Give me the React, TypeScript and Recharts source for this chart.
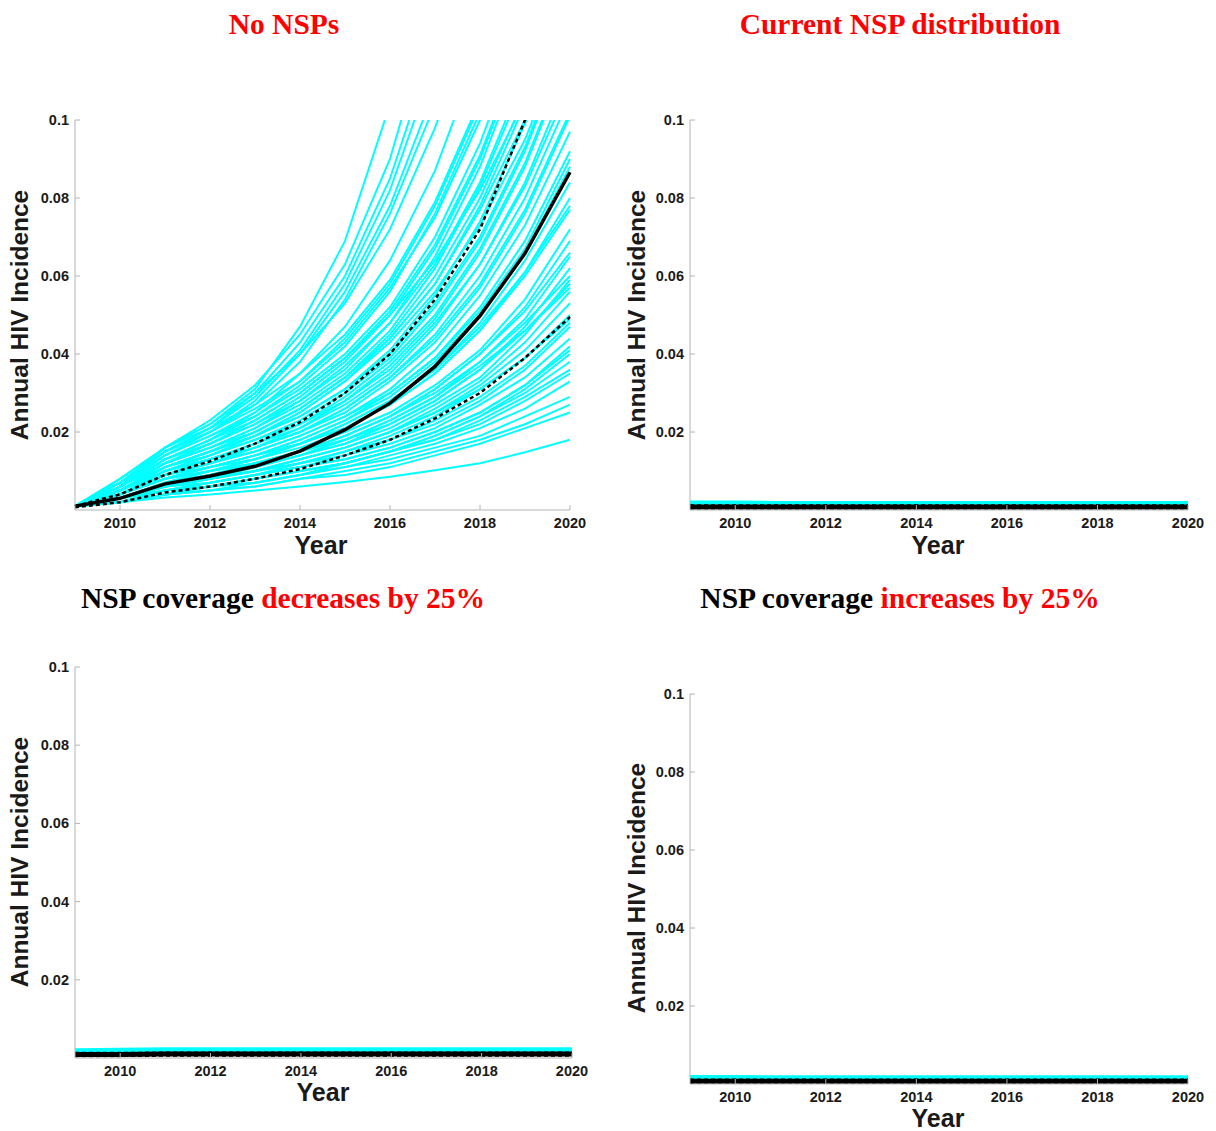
import { LineChart, Line, XAxis, YAxis } from 'recharts'

const years = [2009, 2010, 2011, 2012, 2013, 2014, 2015, 2016, 2017, 2018, 2019, 2020]
const xTicks = [2010, 2012, 2014, 2016, 2018, 2020]
const yTicks = [0.02, 0.04, 0.06, 0.08, 0.1]

// "No NSPs" simulation runs (values past 0.1 are clipped)
const noNspRuns: number[][] = [
  [0.001, 0.008, 0.016, 0.022, 0.031, 0.047, 0.069, 0.104, 0.15, 0.21, 0.29, 0.4],
  [0.001, 0.008, 0.016, 0.023, 0.032, 0.045, 0.063, 0.09, 0.13, 0.18, 0.25, 0.34],
  [0.001, 0.007, 0.015, 0.021, 0.029, 0.041, 0.058, 0.082, 0.115, 0.16, 0.22, 0.3],
  [0.001, 0.007, 0.015, 0.02, 0.028, 0.04, 0.056, 0.078, 0.108, 0.15, 0.2, 0.27],
  [0.001, 0.007, 0.014, 0.02, 0.027, 0.038, 0.054, 0.076, 0.104, 0.14, 0.19, 0.26],
  [0.001, 0.007, 0.015, 0.021, 0.03, 0.043, 0.06, 0.085, 0.12, 0.17, 0.23, 0.31],
  [0.001, 0.006, 0.016, 0.022, 0.03, 0.04, 0.053, 0.072, 0.098, 0.13, 0.18, 0.24],
  [0.001, 0.006, 0.013, 0.018, 0.025, 0.035, 0.047, 0.064, 0.087, 0.118, 0.16, 0.21],
  [0.001, 0.007, 0.016, 0.021, 0.027, 0.035, 0.045, 0.059, 0.079, 0.105, 0.14, 0.19],
  [0.001, 0.006, 0.014, 0.019, 0.025, 0.033, 0.044, 0.058, 0.078, 0.104, 0.14, 0.19],
  [0.001, 0.006, 0.013, 0.018, 0.024, 0.032, 0.042, 0.056, 0.076, 0.102, 0.14, 0.19],
  [0.001, 0.006, 0.015, 0.02, 0.026, 0.033, 0.043, 0.057, 0.075, 0.1, 0.133, 0.18],
  [0.001, 0.006, 0.014, 0.019, 0.024, 0.031, 0.04, 0.052, 0.07, 0.094, 0.125, 0.17],
  [0.001, 0.006, 0.013, 0.018, 0.023, 0.03, 0.039, 0.051, 0.068, 0.091, 0.121, 0.162],
  [0.001, 0.006, 0.012, 0.017, 0.022, 0.029, 0.038, 0.05, 0.067, 0.09, 0.12, 0.16],
  [0.001, 0.006, 0.013, 0.017, 0.022, 0.028, 0.036, 0.048, 0.065, 0.088, 0.118, 0.16],
  [0.001, 0.005, 0.012, 0.016, 0.021, 0.028, 0.037, 0.048, 0.063, 0.084, 0.112, 0.15],
  [0.001, 0.005, 0.012, 0.016, 0.021, 0.027, 0.035, 0.046, 0.062, 0.083, 0.11, 0.15],
  [0.001, 0.006, 0.012, 0.016, 0.02, 0.026, 0.034, 0.045, 0.06, 0.08, 0.106, 0.14],
  [0.001, 0.005, 0.011, 0.015, 0.019, 0.025, 0.033, 0.044, 0.058, 0.078, 0.104, 0.138],
  [0.001, 0.005, 0.012, 0.017, 0.023, 0.03, 0.039, 0.05, 0.064, 0.082, 0.105, 0.135],
  [0.001, 0.005, 0.011, 0.015, 0.02, 0.026, 0.034, 0.044, 0.058, 0.077, 0.1, 0.133],
  [0.001, 0.005, 0.011, 0.015, 0.019, 0.024, 0.031, 0.041, 0.055, 0.074, 0.099, 0.13],
  [0.001, 0.004, 0.01, 0.014, 0.019, 0.025, 0.033, 0.043, 0.056, 0.073, 0.095, 0.124],
  [0.001, 0.005, 0.011, 0.015, 0.019, 0.024, 0.031, 0.04, 0.053, 0.07, 0.093, 0.123],
  [0.001, 0.005, 0.01, 0.014, 0.018, 0.023, 0.03, 0.039, 0.052, 0.069, 0.092, 0.122],
  [0.001, 0.004, 0.01, 0.013, 0.017, 0.022, 0.029, 0.038, 0.05, 0.067, 0.089, 0.118],
  [0.001, 0.005, 0.011, 0.014, 0.018, 0.022, 0.028, 0.037, 0.049, 0.066, 0.088, 0.117],
  [0.001, 0.005, 0.01, 0.013, 0.017, 0.021, 0.027, 0.035, 0.047, 0.063, 0.084, 0.112],
  [0.001, 0.004, 0.009, 0.012, 0.016, 0.021, 0.028, 0.036, 0.048, 0.063, 0.083, 0.109],
  [0.001, 0.004, 0.009, 0.013, 0.016, 0.02, 0.026, 0.034, 0.045, 0.06, 0.08, 0.106],
  [0.001, 0.004, 0.009, 0.012, 0.016, 0.02, 0.026, 0.034, 0.044, 0.058, 0.077, 0.102],
  [0.001, 0.005, 0.01, 0.013, 0.016, 0.02, 0.025, 0.033, 0.043, 0.057, 0.076, 0.101],
  [0.001, 0.004, 0.009, 0.012, 0.015, 0.019, 0.024, 0.031, 0.041, 0.055, 0.073, 0.097],
  [0.001, 0.004, 0.009, 0.012, 0.015, 0.019, 0.024, 0.03, 0.039, 0.052, 0.069, 0.092],
  [0.001, 0.004, 0.008, 0.011, 0.014, 0.018, 0.023, 0.03, 0.039, 0.051, 0.067, 0.09],
  [0.001, 0.004, 0.008, 0.011, 0.014, 0.018, 0.023, 0.029, 0.038, 0.05, 0.066, 0.088],
  [0.001, 0.004, 0.008, 0.011, 0.014, 0.017, 0.022, 0.028, 0.036, 0.048, 0.064, 0.084],
  [0.001, 0.004, 0.009, 0.011, 0.014, 0.017, 0.021, 0.027, 0.035, 0.046, 0.061, 0.08],
  [0.001, 0.003, 0.007, 0.01, 0.013, 0.017, 0.022, 0.028, 0.036, 0.047, 0.061, 0.078],
  [0.001, 0.004, 0.008, 0.011, 0.013, 0.017, 0.021, 0.027, 0.035, 0.046, 0.06, 0.077],
  [0.001, 0.004, 0.008, 0.01, 0.013, 0.016, 0.02, 0.025, 0.032, 0.041, 0.054, 0.072],
  [0.001, 0.003, 0.007, 0.01, 0.012, 0.015, 0.019, 0.024, 0.031, 0.04, 0.052, 0.069],
  [0.001, 0.003, 0.007, 0.009, 0.012, 0.015, 0.019, 0.024, 0.031, 0.04, 0.051, 0.066],
  [0.001, 0.004, 0.008, 0.01, 0.012, 0.015, 0.018, 0.023, 0.029, 0.038, 0.049, 0.065],
  [0.001, 0.003, 0.007, 0.009, 0.011, 0.014, 0.018, 0.022, 0.028, 0.036, 0.047, 0.062],
  [0.001, 0.003, 0.007, 0.009, 0.012, 0.015, 0.019, 0.024, 0.03, 0.038, 0.048, 0.06],
  [0.001, 0.003, 0.007, 0.009, 0.011, 0.014, 0.017, 0.021, 0.027, 0.034, 0.045, 0.059],
  [0.001, 0.003, 0.006, 0.008, 0.011, 0.014, 0.017, 0.022, 0.028, 0.036, 0.046, 0.058],
  [0.001, 0.003, 0.006, 0.008, 0.011, 0.014, 0.018, 0.023, 0.029, 0.037, 0.046, 0.057],
  [0.001, 0.003, 0.006, 0.008, 0.01, 0.013, 0.016, 0.02, 0.026, 0.033, 0.043, 0.056],
  [0.001, 0.003, 0.006, 0.008, 0.01, 0.013, 0.016, 0.02, 0.025, 0.032, 0.041, 0.053],
  [0.001, 0.003, 0.006, 0.008, 0.01, 0.012, 0.015, 0.019, 0.024, 0.031, 0.039, 0.05],
  [0.001, 0.003, 0.006, 0.008, 0.01, 0.013, 0.016, 0.02, 0.025, 0.031, 0.039, 0.049],
  [0.001, 0.003, 0.006, 0.008, 0.01, 0.012, 0.015, 0.018, 0.023, 0.029, 0.037, 0.048],
  [0.001, 0.003, 0.006, 0.007, 0.009, 0.012, 0.014, 0.018, 0.022, 0.028, 0.036, 0.047],
  [0.001, 0.003, 0.005, 0.007, 0.009, 0.011, 0.014, 0.017, 0.021, 0.027, 0.034, 0.044],
  [0.001, 0.003, 0.005, 0.007, 0.009, 0.011, 0.013, 0.016, 0.02, 0.025, 0.032, 0.042],
  [0.001, 0.003, 0.005, 0.007, 0.009, 0.011, 0.013, 0.016, 0.02, 0.025, 0.032, 0.041],
  [0.001, 0.002, 0.004, 0.006, 0.007, 0.009, 0.012, 0.015, 0.019, 0.024, 0.031, 0.04],
  [0.001, 0.002, 0.005, 0.006, 0.008, 0.01, 0.012, 0.015, 0.019, 0.024, 0.03, 0.038],
  [0.001, 0.002, 0.005, 0.006, 0.008, 0.01, 0.012, 0.015, 0.018, 0.023, 0.029, 0.036],
  [0.001, 0.002, 0.005, 0.006, 0.008, 0.01, 0.012, 0.015, 0.018, 0.022, 0.028, 0.035],
  [0.001, 0.002, 0.004, 0.006, 0.007, 0.009, 0.011, 0.014, 0.017, 0.021, 0.026, 0.033],
  [0.001, 0.002, 0.004, 0.005, 0.007, 0.009, 0.011, 0.013, 0.016, 0.019, 0.024, 0.029],
  [0.001, 0.002, 0.004, 0.005, 0.006, 0.008, 0.01, 0.012, 0.015, 0.018, 0.022, 0.027],
  [0.001, 0.002, 0.004, 0.005, 0.006, 0.008, 0.009, 0.011, 0.014, 0.017, 0.021, 0.025],
  [0.0008, 0.002, 0.0032, 0.004, 0.005, 0.006, 0.0072, 0.0085, 0.0102, 0.012, 0.0148, 0.018],
]
const noNspMedian = [0.001, 0.003, 0.0067, 0.0087, 0.0112, 0.0151, 0.0206, 0.0274, 0.0368, 0.0498, 0.0658, 0.0866]
const noNspUpper = [0.001, 0.004, 0.009, 0.0125, 0.017, 0.0225, 0.03, 0.04, 0.054, 0.072, 0.1, 0.135]
const noNspLower = [0.0007, 0.002, 0.0045, 0.006, 0.008, 0.0105, 0.014, 0.018, 0.0235, 0.03, 0.039, 0.0495]

// the three NSP scenarios stay flat just above zero
const currentRuns: number[][] = [
  [0.0021, 0.0021, 0.002, 0.002, 0.002, 0.002, 0.002, 0.002, 0.002, 0.002, 0.002, 0.002],
  [0.0017, 0.0017, 0.0017, 0.0017, 0.0017, 0.0017, 0.0017, 0.0017, 0.0017, 0.0017, 0.0017, 0.0017],
  [0.0014, 0.0014, 0.0014, 0.0014, 0.0014, 0.0014, 0.0014, 0.0014, 0.0014, 0.0014, 0.0014, 0.0014],
]
const currentMedian = [0.0008, 0.0008, 0.0008, 0.0008, 0.0008, 0.0008, 0.0008, 0.0008, 0.0008, 0.0008, 0.0008, 0.0008]
const currentUpper = [0.0011, 0.0011, 0.0011, 0.0011, 0.0011, 0.0011, 0.0011, 0.0011, 0.0011, 0.0011, 0.0011, 0.0011]
const currentLower = [0.0005, 0.0005, 0.0005, 0.0005, 0.0005, 0.0005, 0.0005, 0.0005, 0.0005, 0.0005, 0.0005, 0.0005]

const decreaseRuns: number[][] = [
  [0.0022, 0.0023, 0.0024, 0.0024, 0.0024, 0.0024, 0.0024, 0.0024, 0.0024, 0.0024, 0.0024, 0.0024],
  [0.0019, 0.0019, 0.002, 0.002, 0.002, 0.002, 0.002, 0.002, 0.002, 0.002, 0.002, 0.002],
  [0.0015, 0.0015, 0.0016, 0.0016, 0.0016, 0.0016, 0.0016, 0.0016, 0.0016, 0.0016, 0.0016, 0.0016],
]
const decreaseMedian = [0.0009, 0.0009, 0.001, 0.001, 0.001, 0.001, 0.001, 0.001, 0.001, 0.001, 0.001, 0.001]
const decreaseUpper = [0.0012, 0.0012, 0.0013, 0.0013, 0.0013, 0.0013, 0.0013, 0.0013, 0.0013, 0.0013, 0.0013, 0.0013]
const decreaseLower = [0.0006, 0.0006, 0.0007, 0.0007, 0.0007, 0.0007, 0.0007, 0.0007, 0.0007, 0.0007, 0.0007, 0.0007]

const increaseRuns: number[][] = [
  [0.002, 0.002, 0.0019, 0.0019, 0.0019, 0.0019, 0.0019, 0.0019, 0.0019, 0.0019, 0.0019, 0.0019],
  [0.0016, 0.0016, 0.0016, 0.0016, 0.0016, 0.0016, 0.0016, 0.0016, 0.0016, 0.0016, 0.0016, 0.0016],
  [0.0013, 0.0013, 0.0013, 0.0013, 0.0013, 0.0013, 0.0013, 0.0013, 0.0013, 0.0013, 0.0013, 0.0013],
]
const increaseMedian = [0.0007, 0.0007, 0.0007, 0.0007, 0.0007, 0.0007, 0.0007, 0.0007, 0.0007, 0.0007, 0.0007, 0.0007]
const increaseUpper = [0.001, 0.001, 0.001, 0.001, 0.001, 0.001, 0.001, 0.001, 0.001, 0.001, 0.001, 0.001]
const increaseLower = [0.0004, 0.0004, 0.0004, 0.0004, 0.0004, 0.0004, 0.0004, 0.0004, 0.0004, 0.0004, 0.0004, 0.0004]

const sans = '"Liberation Sans", Arial, sans-serif'
const serif = '"Liberation Serif", "Times New Roman", serif'
const axisGray = '#b4b4b4'

type Row = { [key: string]: number }

function buildRows(runs: number[][], median: number[], upper: number[], lower: number[]): Row[] {
  return years.map((year, i) => {
    const row: Row = { year, median: median[i], upper: upper[i], lower: lower[i] }
    runs.forEach((run, k) => {
      row['r' + k] = run[i]
    })
    return row
  })
}

const Y_AXIS_W = 75
const TOP_M = 10

interface PanelProps {
  plotLeft: number
  plotTop: number
  plotW: number
  plotH: number
  runs: number[][]
  median: number[]
  upper: number[]
  lower: number[]
  runWidth: number
  medianWidth: number
  dashWidth: number
}

function Panel({ plotLeft, plotTop, plotW, plotH, runs, median, upper, lower, runWidth, medianWidth, dashWidth }: PanelProps) {
  const data = buildRows(runs, median, upper, lower)
  const axisY = TOP_M + plotH

  const YTick = (props: any) => {
    const { y, payload } = props
    return (
      <g>
        <line x1={Y_AXIS_W} x2={Y_AXIS_W + 5} y1={y} y2={y} stroke={axisGray} strokeWidth={1} />
        <text x={Y_AXIS_W - 6} y={y} dy={5} textAnchor="end" fontFamily={sans} fontWeight={700} fontSize={14.5} fill="#1a1a1a">
          {String(payload.value)}
        </text>
      </g>
    )
  }

  const XTick = (props: any) => {
    const { x, payload } = props
    return (
      <g>
        <line x1={x} x2={x} y1={axisY} y2={axisY - 5} stroke={axisGray} strokeWidth={1} />
        <text x={x} y={axisY + 18} textAnchor="middle" fontFamily={sans} fontWeight={700} fontSize={14.5} fill="#1a1a1a">
          {String(payload.value)}
        </text>
      </g>
    )
  }

  return (
    <div style={{ position: 'absolute', left: plotLeft - Y_AXIS_W, top: plotTop - TOP_M }}>
      <LineChart
        width={Y_AXIS_W + plotW + 30}
        height={TOP_M + plotH + 24}
        data={data}
        margin={{ top: TOP_M, right: 30, bottom: 0, left: 0 }}
      >
        <XAxis
          dataKey="year"
          type="number"
          domain={[2009, 2020]}
          ticks={xTicks}
          height={24}
          tickLine={false}
          axisLine={{ stroke: axisGray }}
          tick={XTick}
          interval={0}
        />
        <YAxis
          type="number"
          domain={[0, 0.1]}
          ticks={yTicks}
          width={Y_AXIS_W}
          allowDataOverflow
          tickLine={false}
          axisLine={{ stroke: axisGray }}
          tick={YTick}
          interval={0}
        />
        {runs.map((_, k) => (
          <Line
            key={k}
            type="linear"
            dataKey={'r' + k}
            stroke="#00ffff"
            strokeWidth={runWidth}
            dot={false}
            isAnimationActive={false}
          />
        ))}
        <Line type="linear" dataKey="upper" stroke="#000" strokeWidth={dashWidth} strokeDasharray="4 3" dot={false} isAnimationActive={false} />
        <Line type="linear" dataKey="lower" stroke="#000" strokeWidth={dashWidth} strokeDasharray="4 3" dot={false} isAnimationActive={false} />
        <Line type="linear" dataKey="median" stroke="#000" strokeWidth={medianWidth} dot={false} isAnimationActive={false} />
      </LineChart>
    </div>
  )
}

function Title({ cx, cy, children }: { cx: number; cy: number; children: any }) {
  return (
    <div
      style={{
        position: 'absolute',
        left: cx - 300,
        top: cy - 16,
        width: 600,
        textAlign: 'center',
        fontFamily: serif,
        fontWeight: 700,
        fontSize: 29.5,
        lineHeight: '32px',
        whiteSpace: 'nowrap',
      }}
    >
      {children}
    </div>
  )
}

function YLabel({ cx, cy }: { cx: number; cy: number }) {
  return (
    <div
      style={{
        position: 'absolute',
        left: cx - 150,
        top: cy - 15,
        width: 300,
        textAlign: 'center',
        fontFamily: sans,
        fontWeight: 700,
        fontSize: 24.5,
        lineHeight: '30px',
        color: '#1a1a1a',
        transform: 'rotate(-90deg)',
        whiteSpace: 'nowrap',
      }}
    >
      Annual HIV Incidence
    </div>
  )
}

function XLabel({ cx, cy }: { cx: number; cy: number }) {
  return (
    <div
      style={{
        position: 'absolute',
        left: cx - 60,
        top: cy - 11,
        width: 120,
        textAlign: 'center',
        fontFamily: sans,
        fontWeight: 700,
        fontSize: 25,
        lineHeight: '22px',
        color: '#1a1a1a',
      }}
    >
      Year
    </div>
  )
}

const red = { color: '#ff0000' }

export default function App() {
  return (
    <div style={{ position: 'absolute', left: 0, top: 0, width: 1216, height: 1131, background: '#fff', overflow: 'hidden' }}>
      <Title cx={284} cy={24}>
        <span style={red}>No NSPs</span>
      </Title>
      <Title cx={900} cy={24}>
        <span style={red}>Current NSP distribution</span>
      </Title>
      <Title cx={283} cy={598}>
        NSP coverage <span style={red}>decreases by 25%</span>
      </Title>
      <Title cx={900} cy={598}>
        NSP coverage <span style={red}>increases by 25%</span>
      </Title>

      <Panel plotLeft={75} plotTop={120} plotW={495} plotH={390} runs={noNspRuns} median={noNspMedian} upper={noNspUpper} lower={noNspLower} runWidth={2} medianWidth={3.5} dashWidth={2.5} />
      <Panel plotLeft={690} plotTop={120} plotW={498} plotH={390} runs={currentRuns} median={currentMedian} upper={currentUpper} lower={currentLower} runWidth={2.5} medianWidth={5} dashWidth={3} />
      <Panel plotLeft={75} plotTop={667} plotW={497} plotH={391} runs={decreaseRuns} median={decreaseMedian} upper={decreaseUpper} lower={decreaseLower} runWidth={2.5} medianWidth={5} dashWidth={3} />
      <Panel plotLeft={690} plotTop={694} plotW={498} plotH={390} runs={increaseRuns} median={increaseMedian} upper={increaseUpper} lower={increaseLower} runWidth={2.5} medianWidth={5} dashWidth={3} />

      <YLabel cx={20} cy={315} />
      <YLabel cx={637} cy={315} />
      <YLabel cx={20} cy={862} />
      <YLabel cx={637} cy={888} />

      <XLabel cx={321} cy={545} />
      <XLabel cx={938} cy={545} />
      <XLabel cx={323} cy={1092} />
      <XLabel cx={938} cy={1118} />
    </div>
  )
}
